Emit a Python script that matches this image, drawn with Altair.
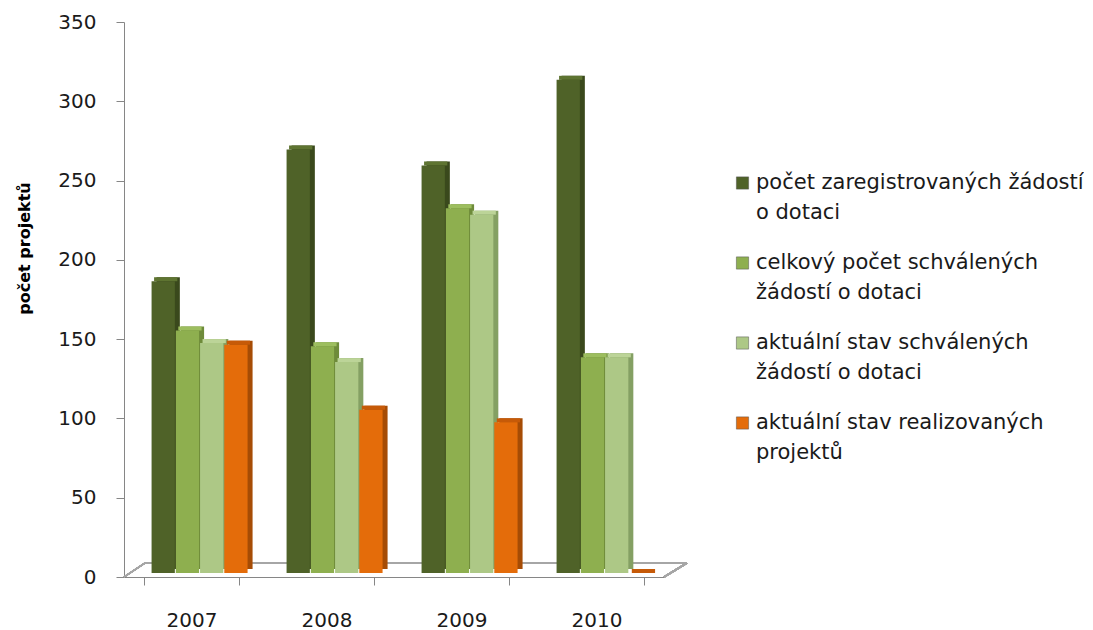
import altair as alt
import pandas as pd

years = ["2007", "2008", "2009", "2010"]
series = [
    "počet zaregistrovaných žádostí o dotaci",
    "celkový počet schválených žádostí o dotaci",
    "aktuální stav schválených žádostí o dotaci",
    "aktuální stav realizovaných projektů",
]
legend_line1 = ["počet zaregistrovaných žádostí", "celkový počet schválených",
                "aktuální stav schválených", "aktuální stav realizovaných"]
legend_line2 = ["o dotaci", "žádostí o dotaci", "žádostí o dotaci", "projektů"]

registered = [184, 267, 257, 311]
approved_total = [153, 143, 230, 136]
approved_current = [145, 133, 226, 136]
realized = [144, 103, 95, 0]

front_colors = ["#4F6228", "#8EAF4F", "#ADC886", "#E46C0A"]
side_colors = ["#3A491C", "#6E8B3A", "#84A063", "#A64C05"]
top_colors = ["#5E7431", "#9DBE5F", "#BCD498", "#C65A08"]

FONT = "DejaVu Sans"

values = [registered, approved_total, approved_current, realized]
rows = []
for si, s in enumerate(series):
    for yi, yr in enumerate(years):
        rows.append({"year": yr, "series": s, "order": si, "value": values[si][yi],
                     "front": front_colors[si], "side": side_colors[si], "top": top_colors[si]})
df = pd.DataFrame(rows)

x = alt.X("year:N", sort=years, title=None,
          scale=alt.Scale(paddingInner=0.29, paddingOuter=0.145),
          axis=alt.Axis(tickBand="extent", tickSize=8, labelPadding=25, labelFontSize=20,
                        labelFont=FONT, labelColor="#1a1a1a", domainColor="#868686",
                        tickColor="#868686", labelAngle=0, grid=False))


def xo(lo):
    return alt.XOffset("series:N", sort=series,
                       scale=alt.Scale(range=[lo, lo + 96], paddingInner=0.04))


yscale = alt.Scale(domain=[0, 350], nice=False)
yaxis = alt.Axis(values=[0, 50, 100, 150, 200, 250, 300, 350], tickSize=8, labelPadding=20,
                 labelFontSize=20, labelFont=FONT, labelColor="#1a1a1a",
                 domainColor="#868686", tickColor="#868686", grid=False,
                 title="počet projektů", titleFont=FONT, titleFontSize=16,
                 titleFontWeight="bold", titleColor="#000000", titlePadding=25,
                 titleY=226, titleAlign="center")

base = alt.Chart(df)

side = base.mark_bar(yOffset=-8, y2Offset=-8).encode(
    x=x, xOffset=xo(13),
    y=alt.Y("value:Q", scale=yscale, axis=yaxis),
    y2=alt.datum(0),
    color=alt.Color("side:N", scale=None))
top = base.mark_bar(yOffset=-8, y2Offset=-4).encode(
    x=x, xOffset=xo(10.5),
    y=alt.Y("value:Q", scale=yscale, axis=yaxis),
    y2="value:Q",
    color=alt.Color("top:N", scale=None))
front = base.mark_bar(yOffset=-4, y2Offset=-4).encode(
    x=x, xOffset=xo(8),
    y=alt.Y("value:Q", scale=yscale, axis=yaxis),
    y2=alt.datum(0),
    color=alt.Color("front:N", scale=None))

floor_color = "#A6A6A6"
floor_back = alt.Chart(df).mark_rule(color=floor_color, strokeWidth=1.5).encode(
    x=alt.value(21), x2=alt.value(563), y=alt.value(541))
floor_left = alt.Chart(df).mark_rule(color=floor_color, strokeWidth=1.5).encode(
    x=alt.value(0), x2=alt.value(21), y=alt.value(555), y2=alt.value(541))
floor_right = alt.Chart(df).mark_rule(color=floor_color, strokeWidth=1.5).encode(
    x=alt.value(540), x2=alt.value(563), y=alt.value(555), y2=alt.value(541))

main = alt.layer(floor_back, floor_left, floor_right, side, top, front).resolve_scale(
    xOffset="independent").properties(width=540, height=555)

leg_df = pd.DataFrame({"series": series, "line1": legend_line1, "line2": legend_line2,
                       "front": front_colors})
ly = alt.Y("series:N", sort=series, axis=None,
           scale=alt.Scale(type="point", range=[161, 401], padding=0))
leg_base = alt.Chart(leg_df)
sym = leg_base.mark_square(size=150, opacity=1, stroke="#555555", strokeWidth=0.5).encode(
    x=alt.value(6.5), y=ly, color=alt.Color("front:N", scale=None))
t1 = leg_base.mark_text(align="left", baseline="middle", font=FONT, fontSize=21,
                        color="#1a1a1a").encode(x=alt.value(20), y=ly, text="line1:N")
t2 = leg_base.mark_text(align="left", baseline="middle", font=FONT, fontSize=21,
                        color="#1a1a1a", dy=30).encode(x=alt.value(20), y=ly, text="line2:N")
legend = alt.layer(sym, t1, t2).properties(width=330, height=555)

chart = alt.hconcat(main, legend, spacing=47).properties(
    padding={"left": 8, "top": 4, "right": 0, "bottom": 0}, background="#ffffff"
).configure_view(strokeWidth=0, stroke=None)

chart.save("out.html", embed_options={"renderer": "svg", "actions": False})
